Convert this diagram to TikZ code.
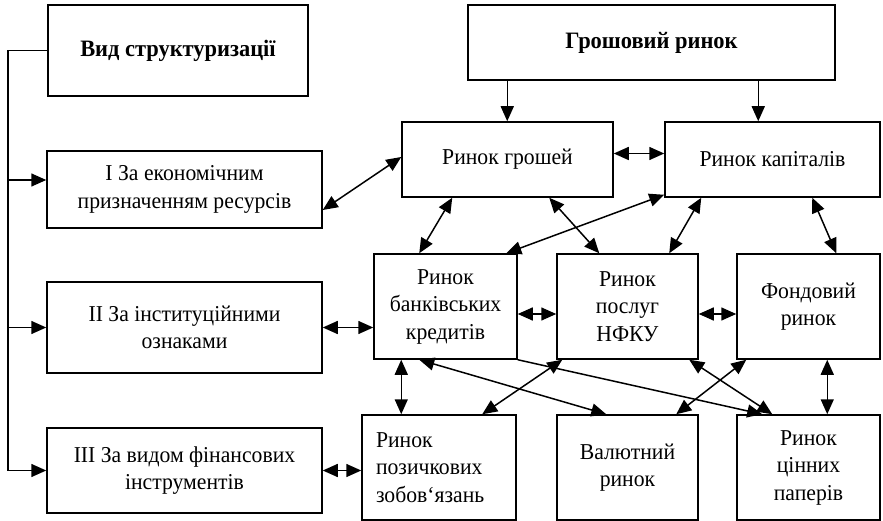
\documentclass[tikz,border=0pt]{standalone}
\usepackage{fontspec}
\setmainfont{Liberation Serif}[FakeStretch=0.955]
\usetikzlibrary{arrows.meta,calc}
\begin{document}
\begin{tikzpicture}[x=1pt,y=-1pt,
  box/.style={draw,line width=1.5pt,align=center,inner sep=2pt,font=\fontsize{22.7}{27.5}\selectfont},
  con/.style={line width=1.5pt},
  tip/.tip={Triangle[length=15pt,width=13pt]},
  arr/.style={con,-tip},
  darr/.style={con,tip-tip}]
\useasboundingbox (0,0) rectangle (883,521);
% left column
\node[box,minimum width=260pt,minimum height=91pt,font=\fontsize{23.5}{27.5}\selectfont\bfseries] (vid) at (178,50.5) {Вид структуризації};
\node[box,minimum width=275pt,minimum height=77pt] (I) at (184.5,189.5) {I За економічним\\призначенням ресурсів};
\node[box,minimum width=275pt,minimum height=91pt] (II) at (184.5,327.5) {II За інституційними\\ознаками};
\node[box,minimum width=275pt,minimum height=85pt] (III) at (184.5,470.5) {III За видом фінансових\\інструментів};
% right part
\node[box,minimum width=367pt,minimum height=75pt,font=\fontsize{23.5}{27.5}\selectfont\bfseries] (grosh) at (651.5,42.5) {Грошовий ринок};
\node[box,minimum width=211pt,minimum height=75pt] (money) at (507.5,159.5) {Ринок грошей};
\node[box,minimum width=215pt,minimum height=75pt] (capital) at (772.5,159.5) {Ринок капіталів};
\node[box,minimum width=143pt,minimum height=105pt] (bank) at (445.5,306.5) {Ринок\\банківських\\кредитів};
\node[box,minimum width=141pt,minimum height=105pt] (nfku) at (627.5,306.5) {Ринок\\послуг\\НФКУ};
\node[box,minimum width=143pt,minimum height=105pt] (fond) at (808.5,306.5) {Фондовий\\ринок};
\node[box,minimum width=154pt,minimum height=105pt,align=left,text width=126pt,inner xsep=14pt] (loan) at (439,467.5) {Ринок\\позичкових\\зобов`язань};
\node[box,minimum width=141pt,minimum height=105pt] (val) at (627.5,467.5) {Валютний\\ринок};
\node[box,minimum width=143pt,minimum height=105pt] (sec) at (808.5,467.5) {Ринок\\цінних\\паперів};
% trunk
\coordinate (tr) at (8,0);
\draw[arr] (vid.west) -| (tr |- III.west) -- (III.west);
\draw[arr] ($(tr |- I.west)+(0,-9.5)$) -- ($(I.west)+(0,-9.5)$);
\draw[arr] (tr |- II.west) -- (II.west);
% top arrows
\coordinate (g1) at ($(money.north west)+(106,0)$);
\coordinate (g2) at ($(capital.north west)+(94,0)$);
\draw[arr] (grosh.south -| g1) -- (g1);
\draw[arr] (grosh.south -| g2) -- (g2);
\draw[darr] ($(money.east)+(0,-6)$) -- ($(capital.west)+(0,-6)$);
\draw[darr] ($(I.east)+(0,20.5)$) -- ($(money.west)+(0,-2.5)$);
% money/capital to row 2
\draw[darr] ($(money.south west)+(51,0)$) -- ($(bank.north west)+(46,0)$);
\draw[darr] ($(money.south west)+(148,0)$) -- ($(nfku.north west)+(43,0)$);
\draw[darr] ($(capital.south west)+(0,-3)$) -- ($(bank.north west)+(133,0)$);
\draw[darr] ($(capital.south west)+(37,0)$) -- ($(nfku.north west)+(113,0)$);
\draw[darr] ($(capital.south west)+(148,0)$) -- ($(fond.north west)+(100,0)$);
% row 2 horizontal
\draw[darr] ($(bank.east)+(0,7.5)$) -- ($(nfku.west)+(0,7.5)$);
\draw[darr] ($(nfku.east)+(0,7.5)$) -- ($(fond.west)+(0,7.5)$);
\draw[darr] (II.east) -- (bank.west |- II.east);
\draw[darr] (III.east) -- (loan.west |- III.east);
% verticals
\coordinate (b1) at ($(bank.south west)+(28,0)$);
\draw[darr] (b1) -- (loan.north -| b1);
\coordinate (f1) at ($(fond.south west)+(91,0)$);
\draw[darr] (f1) -- (sec.north -| f1);
% crossings
\draw[darr] ($(bank.south west)+(46,0)$) -- ($(val.north west)+(50,0)$);
\draw[arr] (bank.south east) -- ($(sec.north west)+(26,0)$);
\draw[darr] ($(nfku.south west)+(6,0)$) -- ($(loan.north west)+(121,0)$);
\draw[darr] ($(nfku.south west)+(133,0)$) -- ($(sec.north west)+(36,0)$);
\draw[darr] ($(fond.south west)+(10,0)$) -- ($(val.north west)+(120,0)$);
\end{tikzpicture}
\end{document}
